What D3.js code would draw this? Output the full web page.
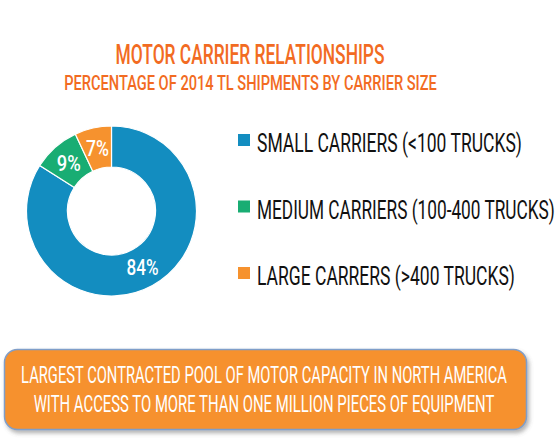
<!DOCTYPE html>
<html>
<head>
<meta charset="utf-8">
<script src="https://cdn.jsdelivr.net/npm/d3@7"></script>
<style>
  body { margin: 0; background: #fff; }
  svg text { font-family: "Roboto", "Liberation Sans Narrow", "DejaVu Sans Condensed", sans-serif; }
</style>
</head>
<body>
<div id="viz"></div>
<script>
// data
var categories = ['SMALL CARRIERS (<100 TRUCKS)', 'MEDIUM CARRIERS (100-400 TRUCKS)', 'LARGE CARRERS (>400 TRUCKS)'];
var shares = [84, 9, 7];
var sliceColors = ['#138dc0', '#19ad73', '#f6922e'];
var titleText = 'MOTOR CARRIER RELATIONSHIPS';
var subtitleText = 'PERCENTAGE OF 2014 TL SHIPMENTS BY CARRIER SIZE';
var noteLines = ['LARGEST CONTRACTED POOL OF MOTOR CAPACITY IN NORTH AMERICA',
                 'WITH ACCESS TO MORE THAN ONE MILLION PIECES OF EQUIPMENT'];

var width = 560, height = 442;
var cx = 111.5, cy = 211, outerR = 85, innerR = 44;

var svg = d3.select('#viz').append('svg')
  .attr('width', width)
  .attr('height', height);

// squeeze a text horizontally so it fills w pixels (the source font is condensed)
function squeeze(sel, x, y, w, anchor) {
  sel.each(function(d, i) {
    var node = this;
    var tw = typeof w === 'function' ? w(d, i) : w;
    var tx = typeof x === 'function' ? x(d, i) : x;
    var ty = typeof y === 'function' ? y(d, i) : y;
    var k = tw / node.getComputedTextLength();
    d3.select(node)
      .attr('text-anchor', anchor || 'start')
      .attr('transform', 'translate(' + tx + ',' + ty + ') scale(' + k + ',1)');
  });
}

// shadow for the note box
var defs = svg.append('defs');
defs.append('filter').attr('id', 'shadow')
  .attr('x', '-5%').attr('y', '-10%').attr('width', '115%').attr('height', '130%')
  .append('feDropShadow')
    .attr('dx', 2).attr('dy', 3).attr('stdDeviation', 2)
    .attr('flood-color', '#555').attr('flood-opacity', 0.45);

// titles
svg.append('text')
  .attr('font-size', 28).attr('font-weight', 500)
  .attr('fill', '#f26b22')
  .text(titleText)
  .call(squeeze, 250, 64, 269, 'middle');

svg.append('text')
  .attr('font-size', 21).attr('font-weight', 500)
  .attr('fill', '#f26b22')
  .text(subtitleText)
  .call(squeeze, 250.5, 90, 373, 'middle');

// donut
var pie = d3.pie().sort(null).value(function(d) { return d; });
var arc = d3.arc().innerRadius(innerR).outerRadius(outerR);
var labelArc = d3.arc().innerRadius((innerR + outerR) / 2).outerRadius((innerR + outerR) / 2);

var donut = svg.append('g')
  .attr('transform', 'translate(' + cx + ',' + cy + ')');

var slices = donut.selectAll('g.slice').data(pie(shares))
  .enter().append('g').attr('class', 'slice');

slices.append('path')
  .attr('d', arc)
  .attr('fill', function(d, i) { return sliceColors[i]; })
  .attr('stroke', '#fff')
  .attr('stroke-width', 1.2);

var labelWidths = [32, 24, 23];
slices.append('text')
  .attr('dy', '0.36em')
  .attr('font-size', 22).attr('font-weight', 500)
  .attr('fill', '#fff')
  .text(function(d) { return d.value + '%'; })
  .call(squeeze,
    function(d) { return labelArc.centroid(d)[0]; },
    function(d) { return labelArc.centroid(d)[1]; },
    function(d, i) { return labelWidths[i]; }, 'middle');

// legend
var legendY = d3.scalePoint().domain(categories).range([152, 285]);
var legendWidths = [265, 298, 258];

var legend = svg.append('g').selectAll('g').data(categories)
  .enter().append('g')
  .attr('transform', function(d) { return 'translate(0,' + legendY(d) + ')'; });

legend.append('rect')
  .attr('x', 238).attr('y', -18)
  .attr('width', 12).attr('height', 12)
  .attr('fill', function(d, i) { return sliceColors[i]; });

legend.append('text')
  .attr('font-size', 26).attr('font-weight', 400)
  .attr('fill', '#111')
  .text(function(d) { return d; })
  .call(squeeze, 257, 0, function(d, i) { return legendWidths[i]; }, 'start');

// note box
svg.append('rect')
  .attr('x', 4.5).attr('y', 349.5)
  .attr('width', 522).attr('height', 80)
  .attr('rx', 13).attr('ry', 13)
  .attr('fill', '#f6912e')
  .attr('stroke', '#7f9ec9')
  .attr('stroke-width', 1.5)
  .attr('filter', 'url(#shadow)');

var noteWidths = [486, 461];
svg.append('g').selectAll('text').data(noteLines)
  .enter().append('text')
  .attr('font-size', 24).attr('font-weight', 400)
  .attr('fill', '#fff')
  .text(function(d) { return d; })
  .call(squeeze, 264, function(d, i) { return 383 + i * 29; },
    function(d, i) { return noteWidths[i]; }, 'middle');
</script>
</body>
</html>
